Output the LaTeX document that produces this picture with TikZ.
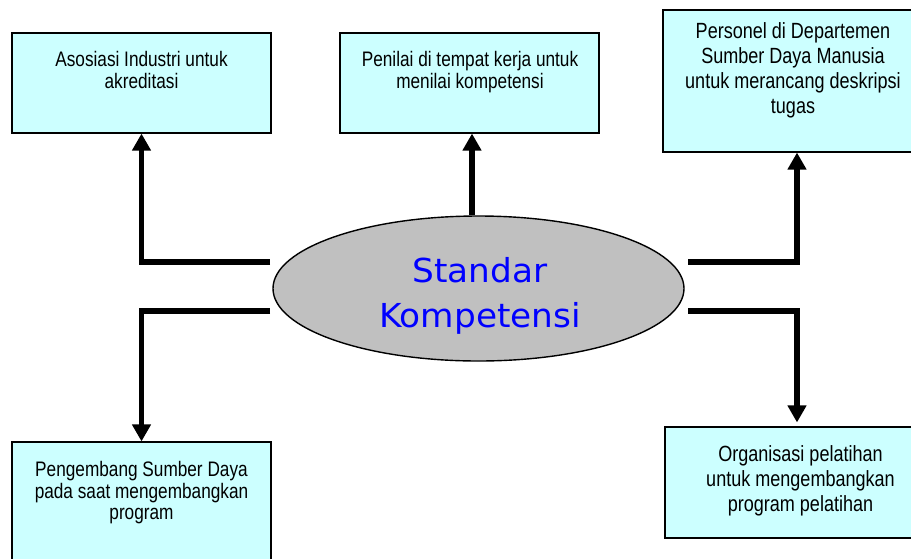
\documentclass[tikz,border=0pt]{standalone}
\usepackage{fontspec}
\setmainfont{Liberation Sans}
\newfontfamily\boxfont[FakeStretch=0.82]{Liberation Sans}
\newfontfamily\ellfont[FakeStretch=1.04]{DejaVu Sans}
\usetikzlibrary{shapes.geometric,arrows.meta}
\definecolor{boxfill}{HTML}{CCFFFF}
\definecolor{ellfill}{HTML}{C0C0C0}
\definecolor{elltext}{HTML}{0000FF}
\begin{document}
\begin{tikzpicture}[x=1pt,y=-1pt,
  boxnode/.style={draw=black,line width=1.1pt,fill=boxfill,rectangle,inner sep=0pt},
  boxtext/.style={anchor=north,align=center,inner sep=0pt,font=\boxfont\fontsize{21}{21.5}\selectfont},
  boxtextb/.style={anchor=north,align=center,inner sep=0pt,font=\boxfont\fontsize{22}{25}\selectfont},
  conn/.style={line width=5.5pt,-{Triangle[length=17pt,width=18pt]}},
  ellnode/.style={ellipse,draw=black,line width=1.4pt,fill=ellfill,inner sep=0pt},
  elltxt/.style={anchor=north,align=center,inner sep=0pt,text=elltext,font=\ellfont\fontsize{33}{45}\selectfont}
]
\useasboundingbox (0,0) rectangle (911,558);
% boxes
\node[boxnode,minimum width=259pt,minimum height=100pt] (tl) at (141.5,83) {};
\node[boxnode,minimum width=259pt,minimum height=100pt] (tm) at (469.5,83) {};
\node[boxnode,minimum width=262pt,minimum height=142pt] (tr) at (794,81) {};
\node[boxnode,minimum width=259pt,minimum height=140pt] (bl) at (141.5,512) {};
\node[boxnode,minimum width=270pt,minimum height=111pt] (br) at (800,482.5) {};
% box texts
\node[boxtext] (tltx) at (141.5,51.3) {Asosiasi Industri untuk\\akreditasi};
\node[boxtext] (tmtx) at (470,51.5) {Penilai di tempat kerja untuk\\menilai kompetensi};
\node[boxtextb] (trtx) at (793,22) {Personel di Departemen\\Sumber Daya Manusia\\untuk merancang deskripsi\\tugas};
\node[boxtext] (bltx) at (141.5,461.5) {Pengembang Sumber Daya\\pada saat mengembangkan\\program};
\node[boxtextb] (brtx) at (800.5,445.4) {Organisasi pelatihan\\untuk mengembangkan\\program pelatihan};
% ellipse
\node[ellnode,minimum width=411pt,minimum height=145pt] (ell) at (478.5,288.5) {};
\node[elltxt] (elltx) at (480,257) {Standar\\Kompetensi};
% connectors
\coordinate (tlS) at (270,262);
\coordinate (blS) at (270,311);
\coordinate (trS) at (688,262);
\coordinate (brS) at (688,311);
\coordinate (tmx) at (472,0);
\coordinate (rx) at (797,0);
\draw[conn] (tlS) -| (tl.south);
\draw[conn] (ell.north -| tmx) -- (tm.south -| tmx);
\draw[conn] (trS) -| (tr.south -| rx);
\draw[conn] (blS) -| (bl.north);
\draw[conn] (brS) -| ([yshift=4pt]br.north -| rx);
\end{tikzpicture}
\end{document}
